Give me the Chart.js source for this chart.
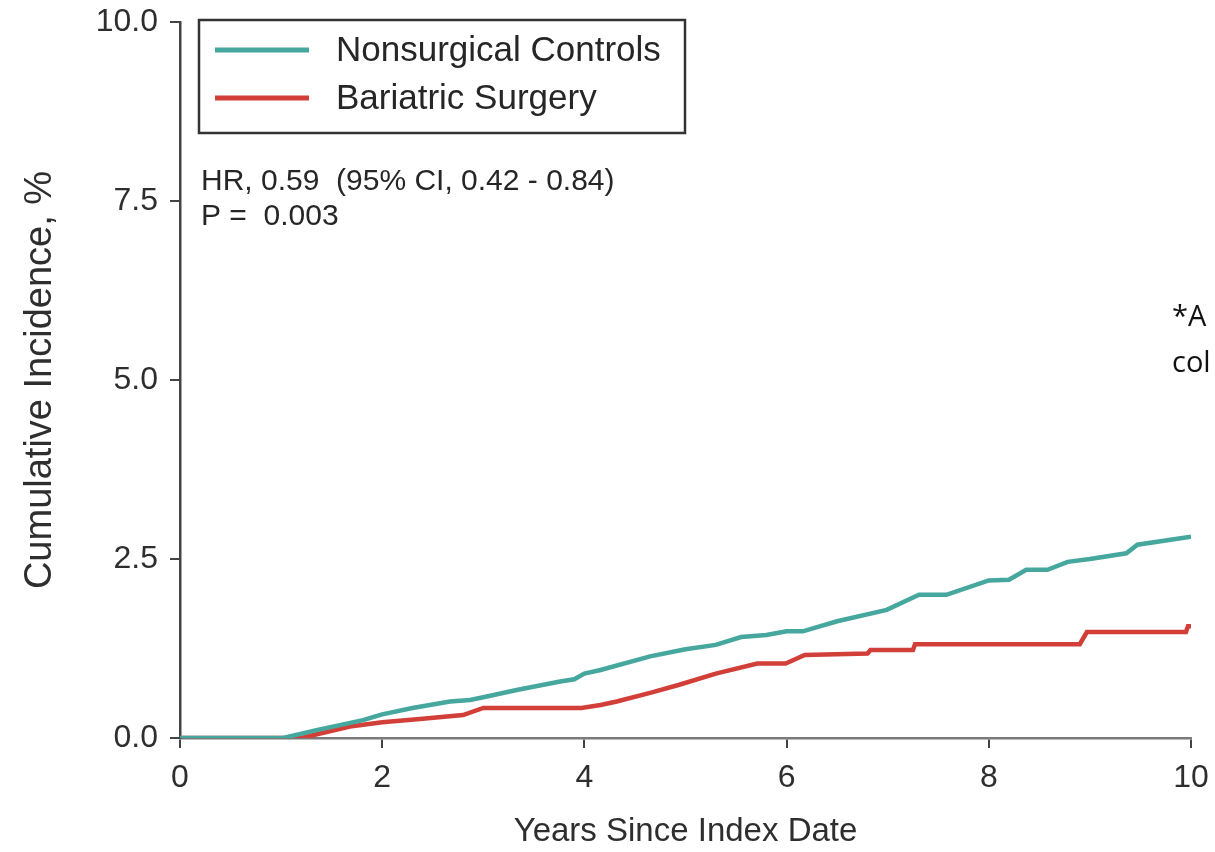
<!DOCTYPE html>
<html>
<head>
<meta charset="utf-8">
<script src="https://cdn.jsdelivr.net/npm/chart.js@4"></script>
<style>
  html, body { margin: 0; padding: 0; background: #ffffff; }
  #wrap { position: relative; width: 1215px; height: 852px; }
</style>
</head>
<body>
<div id="wrap"><canvas id="chart" width="1215" height="852"></canvas></div>
<script>
// Cumulative incidence (%) by years since index date
const controlYears = [0, 1.02, 1.35, 1.81, 2.0, 2.3, 2.67, 2.87, 3.0, 3.33, 3.76, 3.9, 4.0, 4.16, 4.65, 5.0, 5.3, 5.55, 5.8, 6.0, 6.16, 6.5, 6.99, 7.31, 7.58, 8.0, 8.2, 8.37, 8.58, 8.78, 9.0, 9.36, 9.47, 10.0];
const controlIncidence = [0, 0, 0.11, 0.25, 0.33, 0.42, 0.51, 0.53, 0.57, 0.67, 0.79, 0.82, 0.9, 0.95, 1.14, 1.24, 1.3, 1.41, 1.44, 1.49, 1.49, 1.63, 1.79, 2.0, 2.0, 2.2, 2.21, 2.35, 2.35, 2.46, 2.5, 2.58, 2.7, 2.81];

const surgeryYears = [0, 1.2, 1.68, 2.0, 2.4, 2.8, 3.0, 3.97, 4.16, 4.32, 4.65, 4.93, 5.3, 5.71, 5.99, 6.18, 6.8, 6.83, 7.25, 7.27, 8.9, 8.97, 9.95, 9.97, 10.0];
const surgeryIncidence = [0, 0, 0.16, 0.22, 0.27, 0.32, 0.42, 0.42, 0.46, 0.51, 0.63, 0.74, 0.9, 1.04, 1.04, 1.16, 1.18, 1.23, 1.23, 1.31, 1.31, 1.48, 1.48, 1.56, 1.56];

const seriesLabels = ['Nonsurgical Controls', 'Bariatric Surgery'];
const seriesColors = ['#45a79d', '#d23f38'];

const xTicks = [0, 2, 4, 6, 8, 10];
const yTicks = [0, 2.5, 5.0, 7.5, 10.0];

const statLines = ['HR, 0.59  (95% CI, 0.42 - 0.84)', 'P =  0.003'];
const sideNote = ['*A', 'col'];

const toPoints = (xs, ys) => xs.map((x, i) => ({ x: x, y: ys[i] }));

const FONT = '"Liberation Sans", Arial, sans-serif';
const AXIS_COLOR = '#444444';

// Legend box, statistics text and the side note, drawn over the plot
const overlayPlugin = {
  id: 'overlay',
  afterDraw(chart) {
    const ctx = chart.ctx;
    const area = chart.chartArea;
    ctx.save();

    // legend box
    const bx = area.left + 19, by = 20, bw = 486, bh = 113;
    ctx.strokeStyle = '#333333';
    ctx.lineWidth = 2.5;
    ctx.strokeRect(bx, by, bw, bh);
    chart.data.datasets.forEach((ds, i) => {
      const cy = by + 30 + i * 48;
      ctx.strokeStyle = ds.borderColor;
      ctx.lineWidth = 5;
      ctx.beginPath();
      ctx.moveTo(bx + 16, cy);
      ctx.lineTo(bx + 110, cy);
      ctx.stroke();
      ctx.fillStyle = '#262626';
      ctx.font = '35px ' + FONT;
      ctx.textBaseline = 'middle';
      ctx.textAlign = 'left';
      ctx.fillText(ds.label, bx + 137, cy + 1);
    });

    // hazard ratio text
    ctx.fillStyle = '#262626';
    ctx.font = '30px ' + FONT;
    ctx.textBaseline = 'middle';
    statLines.forEach((t, i) => ctx.fillText(t, area.left + 21, 182 + i * 35));

    // side note at the right edge
    ctx.fillStyle = '#111111';
    ctx.font = '29px "Open Sans", sans-serif';
    sideNote.forEach((t, i) => ctx.fillText(t, 1172, 318 + i * 46));

    ctx.restore();
  }
};

const axisGrid = {
  drawOnChartArea: false,
  drawTicks: true,
  tickLength: 10,
  color: AXIS_COLOR,
  lineWidth: 2
};

new Chart(document.getElementById('chart'), {
  type: 'line',
  data: {
    datasets: [
      {
        label: seriesLabels[0],
        data: toPoints(controlYears, controlIncidence),
        borderColor: seriesColors[0],
        backgroundColor: seriesColors[0],
        borderWidth: 4.5,
        pointRadius: 0,
        tension: 0,
        fill: false
      },
      {
        label: seriesLabels[1],
        data: toPoints(surgeryYears, surgeryIncidence),
        borderColor: seriesColors[1],
        backgroundColor: seriesColors[1],
        borderWidth: 4.5,
        pointRadius: 0,
        tension: 0,
        fill: false
      }
    ]
  },
  options: {
    responsive: false,
    animation: false,
    layout: { padding: { left: 0, right: 24, top: 22, bottom: 0 } },
    plugins: {
      legend: { display: false },
      tooltip: { enabled: false }
    },
    scales: {
      x: {
        type: 'linear',
        min: 0,
        max: 10,
        afterBuildTicks: (scale) => { scale.ticks = xTicks.map(v => ({ value: v })); },
        afterFit: (scale) => {
          scale.height = 114;
          scale.paddingLeft = 0;
          scale.paddingRight = 0;
        },
        ticks: {
          color: '#2e2e2e',
          font: { family: FONT, size: 32 },
          padding: 11,
          maxRotation: 0,
          callback: (v) => String(v)
        },
        grid: axisGrid,
        border: { display: true, color: '#7a7a7a', width: 2.5 },
        title: {
          display: true,
          text: 'Years Since Index Date',
          color: '#2e2e2e',
          font: { family: FONT, size: 33 },
          padding: { top: 0, bottom: 0 }
        }
      },
      y: {
        type: 'linear',
        min: 0,
        max: 10,
        afterBuildTicks: (scale) => { scale.ticks = yTicks.map(v => ({ value: v })); },
        afterFit: (scale) => {
          scale.width = 180;
          scale.paddingTop = 0;
          scale.paddingBottom = 0;
        },
        ticks: {
          color: '#2e2e2e',
          font: { family: FONT, size: 32 },
          padding: 12,
          callback: (v) => Number(v).toFixed(1)
        },
        grid: axisGrid,
        border: { display: true, color: AXIS_COLOR, width: 2.5 },
        title: {
          display: true,
          text: 'Cumulative Incidence, %',
          color: '#2e2e2e',
          font: { family: FONT, size: 38 },
          padding: { top: 18, bottom: 0 }
        }
      }
    }
  },
  plugins: [overlayPlugin]
});
</script>
</body>
</html>
